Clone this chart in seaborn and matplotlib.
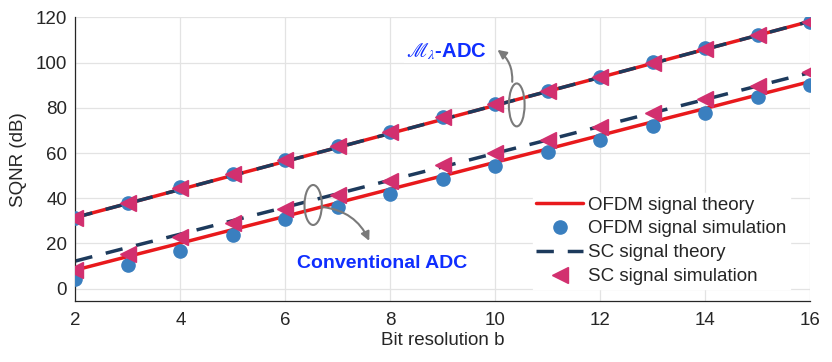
import numpy as np
import pandas as pd
import seaborn as sns
import matplotlib.pyplot as plt
from matplotlib.patches import Ellipse

sns.set_theme(style="whitegrid")
plt.rcParams['font.family'] = ['Liberation Sans', 'DejaVu Sans']
plt.rcParams['mathtext.fontset'] = 'stix'

bits = [2, 3, 4, 5, 6, 7, 8, 9, 10, 11, 12, 13, 14, 15, 16]

# M_lambda-ADC (upper group)
mx_ofdm_theory = [31.5, 37.7, 43.9, 50.1, 56.3, 62.5, 68.7, 74.9, 81.1, 87.3, 93.5, 99.7, 105.9, 112.1, 118.3]
mx_ofdm_sim = [31.1, 38.0, 44.8, 50.8, 57.0, 63.2, 69.4, 76.1, 81.7, 87.6, 93.8, 100.2, 106.4, 112.3, 118.2]
mx_sc_theory = [31.5, 37.7, 43.9, 50.1, 56.3, 62.5, 68.7, 74.9, 81.1, 87.3, 93.5, 99.7, 105.9, 112.1, 118.3]
mx_sc_sim = [31.1, 37.9, 44.7, 50.7, 56.9, 63.1, 69.3, 75.9, 81.6, 87.5, 93.7, 100.0, 106.2, 112.2, 118.1]

# Conventional ADC (lower group)
cv_ofdm_theory = [8.2, 14.2, 20.1, 26.1, 32.0, 38.0, 44.0, 49.9, 55.9, 61.8, 67.8, 73.8, 79.7, 85.7, 91.6]
cv_ofdm_sim = [4.1, 10.4, 16.7, 23.7, 30.6, 36.0, 41.9, 48.4, 54.3, 60.3, 65.8, 72.0, 77.9, 84.7, 90.1]
cv_sc_theory = [12.2, 18.2, 24.1, 30.1, 36.0, 42.0, 48.0, 53.9, 59.9, 65.8, 71.8, 77.8, 83.7, 89.7, 95.6]
cv_sc_sim = [8.2, 15.3, 22.7, 28.9, 35.1, 41.4, 47.5, 54.7, 59.9, 65.8, 71.7, 77.6, 83.8, 89.7, 96.0]

RED = '#e8191c'
BLUE = '#3a7fbf'
NAVY = '#1d3a5c'
MAGENTA = '#d2306f'
GRAY = '#7a7a7a'
TXT_BLUE = '#0f2eff'

fig = plt.figure(figsize=(8.32, 3.62), dpi=100)
ax = fig.add_axes([0.0907, 0.1685, 0.8829, 0.7832])

for theory_ofdm, sim_ofdm, theory_sc, sim_sc, lab in [
        (cv_ofdm_theory, cv_ofdm_sim, cv_sc_theory, cv_sc_sim, True),
        (mx_ofdm_theory, mx_ofdm_sim, mx_sc_theory, mx_sc_sim, False)]:
    sns.lineplot(x=bits, y=theory_ofdm, ax=ax, color=RED, lw=2.5, zorder=2,
                 label='OFDM signal theory' if lab else None)
    ax.plot(bits, sim_ofdm, 'o', color=BLUE, ms=9.5, zorder=3,
            label='OFDM signal simulation' if lab else None)
    ax.plot(bits, theory_sc, '--', color=NAVY, lw=2.5, dashes=(5, 4), zorder=2.5,
            label='SC signal theory' if lab else None)
    ax.plot(bits, sim_sc, '<', color=MAGENTA, ms=11.5, zorder=4,
            label='SC signal simulation' if lab else None)

ax.set_xlim(2, 16)
ax.set_ylim(-5.5, 120)
ax.set_xticks(range(2, 17, 2))
ax.set_yticks(range(0, 121, 20))
ax.set_xlabel('Bit resolution b', fontsize=13.5, labelpad=2)
ax.set_ylabel('SQNR (dB)', fontsize=13.5, labelpad=6)
ax.tick_params(axis='x', labelsize=13.5, direction='in', length=6, pad=8,
               color='#262626', width=0.8)
ax.tick_params(axis='y', labelsize=13.5, direction='in', length=6, pad=6,
               color='#262626', width=0.8)
ax.grid(True, color='#e3e3e3', lw=0.9)
ax.spines['top'].set_visible(False)
ax.spines['right'].set_visible(False)
for s in ['left', 'bottom']:
    ax.spines[s].set_color('#262626')
    ax.spines[s].set_linewidth(0.9)

# annotations
ax.add_patch(Ellipse((10.41, 81.3), 0.30, 19.0, fill=False, ec=GRAY, lw=1.5, zorder=5))
ax.annotate('', xy=(10.0, 106.4), xytext=(10.32, 90.3),
            arrowprops=dict(arrowstyle='-|>', color=GRAY, lw=1.5,
                            connectionstyle='arc3,rad=0.3', mutation_scale=13))
ax.text(9.06, 104.9, r'$\mathscr{M}_{\lambda}$' + '-ADC', color=TXT_BLUE, fontsize=14.5,
        fontweight='bold', ha='center', va='center', zorder=6,
        bbox=dict(fc='white', ec='none', pad=1))

ax.add_patch(Ellipse((6.53, 37.0), 0.33, 17.7, fill=False, ec=GRAY, lw=1.5, zorder=5))
ax.annotate('', xy=(7.62, 20.0), xytext=(6.67, 36.2),
            arrowprops=dict(arrowstyle='-|>', color=GRAY, lw=1.5,
                            connectionstyle='arc3,rad=-0.3', mutation_scale=13))
ax.text(7.85, 11.2, 'Conventional ADC', color=TXT_BLUE, fontsize=14,
        fontweight='bold', ha='center', va='center', zorder=6)

leg = ax.legend(loc='lower right', bbox_to_anchor=(0.9495, 0.2017),
                bbox_transform=fig.transFigure, borderaxespad=0,
                fontsize=13.5, frameon=True, framealpha=1, fancybox=False,
                edgecolor='white', handlelength=2.5, borderpad=0.2, labelspacing=0.36,
                handletextpad=0.25)
leg.set_zorder(10)

fig.savefig('out.png', dpi=100)
